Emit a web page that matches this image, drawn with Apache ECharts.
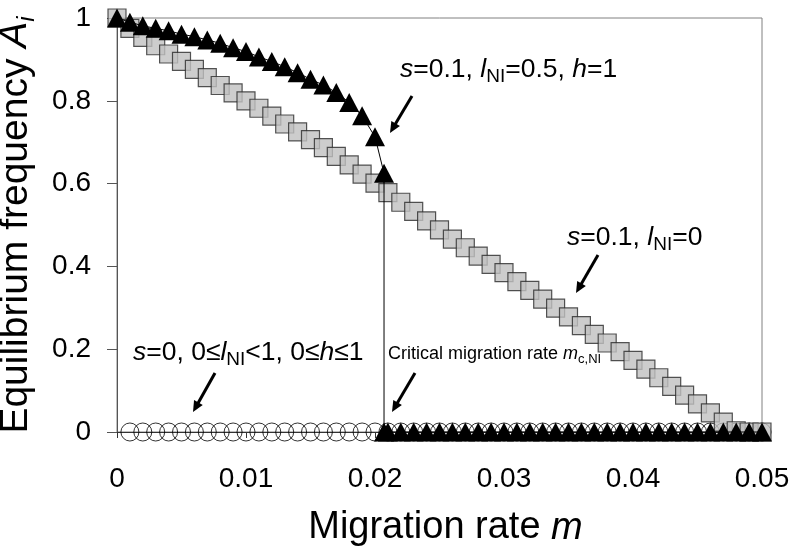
<!DOCTYPE html>
<html>
<head>
<meta charset="utf-8">
<script src="https://cdn.jsdelivr.net/npm/echarts@6/dist/echarts.min.js"></script>
<style>
html,body{margin:0;padding:0;background:#fff;}
#chart{width:797px;height:556px;}
</style>
</head>
<body>
<div id="chart"></div>
<script>
// ---- data ----
const xTickLabels = ['0', '0.01', '0.02', '0.03', '0.04', '0.05'];
const yTickLabels = ['0', '0.2', '0.4', '0.6', '0.8', '1'];

// s=0.1, l_NI=0 (grey squares)
const squareM = [0,0.001,0.002,0.003,0.004,0.005,0.006,0.007,0.008,0.009,0.010,0.011,0.012,0.013,0.014,0.015,0.016,0.017,0.018,0.019,0.020,0.021,0.022,0.023,0.024,0.025,0.026,0.027,0.028,0.029,0.030,0.031,0.032,0.033,0.034,0.035,0.036,0.037,0.038,0.039,0.040,0.041,0.042,0.043,0.044,0.045,0.046,0.047,0.048,0.049,0.050];
const squareA = [1.000,0.975,0.953,0.933,0.913,0.895,0.876,0.856,0.837,0.819,0.800,0.782,0.763,0.744,0.725,0.706,0.687,0.666,0.645,0.623,0.601,0.578,0.555,0.533,0.510,0.488,0.466,0.445,0.425,0.405,0.385,0.363,0.342,0.321,0.299,0.278,0.257,0.236,0.215,0.194,0.173,0.152,0.131,0.110,0.089,0.068,0.046,0.024,0.003,0,0];

// s=0.1, l_NI=0.5, h=1 (black triangles)
const triM = [0,0.001,0.002,0.003,0.004,0.005,0.006,0.007,0.008,0.009,0.010,0.011,0.012,0.013,0.014,0.015,0.016,0.017,0.018,0.019,0.020,0.0207,0.0207,0.021,0.022,0.023,0.024,0.025,0.026,0.027,0.028,0.029,0.030,0.031,0.032,0.033,0.034,0.035,0.036,0.037,0.038,0.039,0.040,0.041,0.042,0.043,0.044,0.045,0.046,0.047,0.048,0.049,0.050];
const triA = [1.000,0.990,0.981,0.975,0.969,0.961,0.955,0.947,0.939,0.928,0.919,0.906,0.895,0.882,0.868,0.852,0.838,0.820,0.796,0.764,0.713,0.625,0,0,0,0,0,0,0,0,0,0,0,0,0,0,0,0,0,0,0,0,0,0,0,0,0,0,0,0,0,0,0];

// s=0 (open circles)
const circM = [0.001,0.002,0.003,0.004,0.005,0.006,0.007,0.008,0.009,0.010,0.011,0.012,0.013,0.014,0.015,0.016,0.017,0.018,0.019,0.020,0.021,0.022,0.023,0.024,0.025,0.026,0.027,0.028,0.029,0.030,0.031,0.032,0.033,0.034,0.035,0.036,0.037,0.038,0.039,0.040,0.041,0.042,0.043,0.044,0.045,0.046,0.047,0.048,0.049,0.050];
const circA = [0,0,0,0,0,0,0,0,0,0,0,0,0,0,0,0,0,0,0,0,0,0,0,0,0,0,0,0,0,0,0,0,0,0,0,0,0,0,0,0,0,0,0,0,0,0,0,0,0,0];

// ---- build ----
const zip = (xs, ys) => xs.map((x, i) => [x, ys[i]]);
const FONT = '"Liberation Sans", Arial, Helvetica, sans-serif';

function arrow(x1, y1, x2, y2) {
  const dx = x2 - x1, dy = y2 - y1, L = Math.hypot(dx, dy);
  const ux = dx / L, uy = dy / L, px = -uy, py = ux;
  const hl = 11, hw = 5;
  const bx = x2 - ux * hl, by = y2 - uy * hl;
  return [
    { type: 'line', shape: { x1: x1, y1: y1, x2: bx + ux * 2, y2: by + uy * 2 }, style: { stroke: '#000', lineWidth: 3 } },
    { type: 'polygon', shape: { points: [[x2, y2], [bx + px * hw, by + py * hw], [bx - px * hw, by - py * hw]] }, style: { fill: '#000' } }
  ];
}

function richStyles(fs, subFs) {
  return {
    n: { fontSize: fs, fontFamily: FONT, lineHeight: fs + 4, padding: [0, 0, 3, 0], verticalAlign: 'bottom', fill: '#000' },
    it: { fontSize: fs, fontFamily: FONT, fontStyle: 'italic', lineHeight: fs + 4, padding: [0, 0, 3, 0], verticalAlign: 'bottom', fill: '#000' },
    sub: { fontSize: subFs, fontFamily: FONT, lineHeight: subFs, verticalAlign: 'bottom', fill: '#000' }
  };
}

function label(x, y, text, fs, subFs) {
  return { type: 'text', x: x, y: y, z: 100, style: { text: text, rich: richStyles(fs, subFs), fontFamily: FONT, fontSize: fs, fill: '#000', textAlign: 'left', textVerticalAlign: 'top' } };
}

const graphics = [].concat(
  label(400, 56, '{it|s}{n|=0.1, }{it|l}{sub|NI}{n|=0.5, }{it|h}{n|=1}', 26.5, 19),
  arrow(412, 96, 390, 133),
  label(567, 224, '{it|s}{n|=0.1, }{it|l}{sub|NI}{n|=0}', 26.5, 19),
  arrow(598, 255, 576, 293),
  label(133, 339, '{it|s}{n|=0, 0≤}{it|l}{sub|NI}{n|<1, 0≤}{it|h}{n|≤1}', 26.5, 19),
  arrow(215, 373, 193, 412),
  label(388, 344, '{n|Critical migration rate }{it|m}{sub|c,NI}', 18, 13),
  arrow(415, 373, 392, 412)
);

const chart = echarts.init(document.getElementById('chart'), null, { renderer: 'canvas' });
chart.setOption({
  animation: false,
  backgroundColor: '#fff',
  textStyle: { fontFamily: FONT },
  grid: { left: 117, right: 35, top: 18, bottom: 124, show: true, borderColor: '#808080', borderWidth: 1,
    containLabel: false, outerBoundsMode: 'none' },
  xAxis: {
    type: 'value', min: 0, max: 0.05, interval: 0.01,
    axisLine: { show: true, onZero: false, lineStyle: { color: '#333', width: 1 } },
    axisTick: { show: true, inside: false, length: 6, lineStyle: { color: '#333' } },
    splitLine: { show: false },
    axisLabel: { fontSize: 28, color: '#000', margin: 33, fontFamily: FONT,
      formatter: v => xTickLabels[Math.round(v / 0.01)] },
    name: 'Migration rate {it|m}', nameLocation: 'middle', nameGap: 77,
    nameTextStyle: { fontSize: 38, color: '#000', fontFamily: FONT, padding: [0, 0, 0, 12],
      rich: { it: { fontSize: 38, fontStyle: 'italic', fontFamily: FONT, color: '#000' } } }
  },
  yAxis: {
    type: 'value', min: 0, max: 1, interval: 0.2,
    axisLine: { show: true, onZero: false, lineStyle: { color: '#555', width: 1 } },
    axisTick: { show: true, inside: false, length: 10, lineStyle: { color: '#555' } },
    splitLine: { show: false },
    axisLabel: { fontSize: 28, color: '#000', margin: 26, fontFamily: FONT,
      formatter: v => yTickLabels[Math.round(v / 0.2)] },
    name: 'Equilibrium frequency {it|A}{sub|i}', nameLocation: 'middle', nameGap: 78, nameRotate: 90,
    nameTextStyle: { fontSize: 39, color: '#000', fontFamily: FONT,
      rich: {
        n: { fontSize: 39, fontFamily: FONT, color: '#000' },
        it: { fontSize: 39, fontStyle: 'italic', fontFamily: FONT, color: '#000', lineHeight: 45, padding: [0, 0, 4, 0], verticalAlign: 'bottom' },
        sub: { fontSize: 24, fontStyle: 'italic', fontFamily: FONT, color: '#000', lineHeight: 24, verticalAlign: 'bottom' }
      } }
  },
  series: [
    {
      name: 's=0', type: 'scatter', data: zip(circM, circA), symbol: 'circle', symbolSize: 18,
      itemStyle: { color: 'rgba(0,0,0,0)', borderColor: '#000', borderWidth: 1 }, clip: false, z: 2
    },
    {
      name: 's=0.1, lNI=0', type: 'scatter', data: zip(squareM, squareA), symbol: 'rect', symbolSize: 18,
      itemStyle: { color: '#c0c0c0', borderColor: '#2a2a2a', borderWidth: 1.2 }, clip: false, z: 3
    },
    {
      name: 's=0.1, lNI=0.5, h=1', type: 'line', data: zip(triM, triA), symbol: 'triangle', symbolSize: [20, 19],
      showAllSymbol: true, lineStyle: { color: '#000', width: 1 },
      itemStyle: { color: '#000', borderColor: '#000', borderWidth: 0 }, clip: false, z: 4
    }
  ],
  graphic: graphics
});
</script>
</body>
</html>
